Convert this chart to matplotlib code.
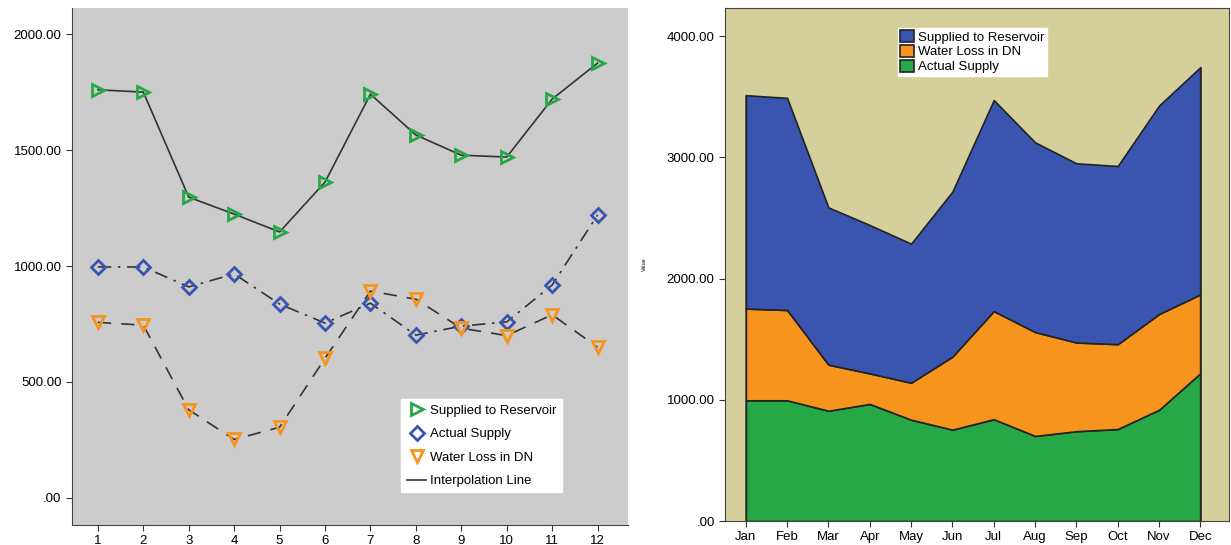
import numpy as np
import matplotlib.pyplot as plt

plt.rcParams['font.family'] = ['Liberation Sans', 'DejaVu Sans']

# monthly values
months = [1, 2, 3, 4, 5, 6, 7, 8, 9, 10, 11, 12]
month_names = ["Jan", "Feb", "Mar", "Apr", "May", "Jun",
               "Jul", "Aug", "Sep", "Oct", "Nov", "Dec"]
supplied = [1760, 1750, 1297, 1224, 1147, 1362, 1741, 1565, 1478, 1470, 1720, 1875]
actual = [996, 996, 910, 966, 836, 754, 840, 702, 741, 759, 918, 1220]
loss = [757, 745, 380, 252, 305, 602, 892, 857, 732, 700, 790, 650]

green = "#26a846"
blue = "#3a55b0"
orange = "#f7941d"


def fmt(v, pos=None):
    s = "%.2f" % v
    if s.startswith("0"):
        s = s[1:]
    return s


fig = plt.figure(figsize=(12.31, 5.45), dpi=100)

# ---- left: line chart with markers
ax1 = fig.add_axes([0.0585, 0.037, 0.452, 0.948])
ax1.set_facecolor("#cccccc")
ax1.plot(months, supplied, color="#333333", lw=1.2, ls="-",
         marker=">", ms=8, mfc="none", mec=green, mew=2, label="Supplied to Reservoir")
ax1.plot(months, actual, color="#333333", lw=1.2, ls=(0, (8, 4, 1.5, 4)),
         marker="D", ms=7, mfc="none", mec=blue, mew=2, label="Actual Supply")
ax1.plot(months, loss, color="#333333", lw=1.2, ls=(0, (8, 6)),
         marker="v", ms=9, mfc="none", mec=orange, mew=2, label="Water Loss in DN")
ax1.plot([], [], color="#333333", lw=1.2, label="Interpolation Line")
ax1.set_xlim(0.43, 12.68)
ax1.set_ylim(-116, 2112)
ax1.set_xticks(months)
ax1.set_yticks([0, 500, 1000, 1500, 2000])
ax1.yaxis.set_major_formatter(plt.FuncFormatter(fmt))
ax1.tick_params(labelsize=9.5, length=4, color="#333333")
for s in ["top", "right"]:
    ax1.spines[s].set_visible(False)
ax1.spines["left"].set_color("#444444")
ax1.spines["bottom"].set_color("#444444")
leg = ax1.legend(loc="lower left", bbox_to_anchor=(0.58, 0.05), fontsize=9.5,
                 frameon=True, fancybox=False, edgecolor="white", framealpha=1,
                 handlelength=1.5, handletextpad=0.3, labelspacing=0.85,
                 borderpad=0.4)
for h in leg.legend_handles[:3]:
    h.set_linestyle("none")

# ---- right: stacked area chart
ax2 = fig.add_axes([0.589, 0.044, 0.409, 0.941])
ax2.set_facecolor("#d4cf9b")
x = np.arange(12)
ax2.stackplot(x, actual, loss, supplied, colors=[green, orange, blue],
              edgecolor="#222222", linewidth=1.2,
              labels=["Actual Supply", "Water Loss in DN", "Supplied to Reservoir"])
total = np.array(actual) + np.array(loss) + np.array(supplied)
ax2.vlines([x[0], x[-1]], 0, [total[0], total[-1]], color="#222222", lw=1)
ax2.set_xlim(-0.5, 11.68)
ax2.set_ylim(0, 4231)
ax2.set_xticks(x)
ax2.set_xticklabels(month_names)
ax2.set_yticks([0, 1000, 2000, 3000, 4000])
ax2.yaxis.set_major_formatter(plt.FuncFormatter(fmt))
ax2.tick_params(labelsize=9.5, length=4, color="#333333")
ax2.set_ylabel("Value", fontsize=4)
ax2.yaxis.set_label_coords(-0.155, 0.5)
for s in ax2.spines.values():
    s.set_color("#444444")
handles, labels = ax2.get_legend_handles_labels()
ax2.legend(handles[::-1], labels[::-1], loc="upper left", bbox_to_anchor=(0.33, 0.975),
           fontsize=9.5, frameon=True, fancybox=False, edgecolor="white", framealpha=1,
           handlelength=1.0, handleheight=1.0, handletextpad=0.3, labelspacing=0.1,
           borderpad=0.2)

fig.savefig("out.png", dpi=100)
